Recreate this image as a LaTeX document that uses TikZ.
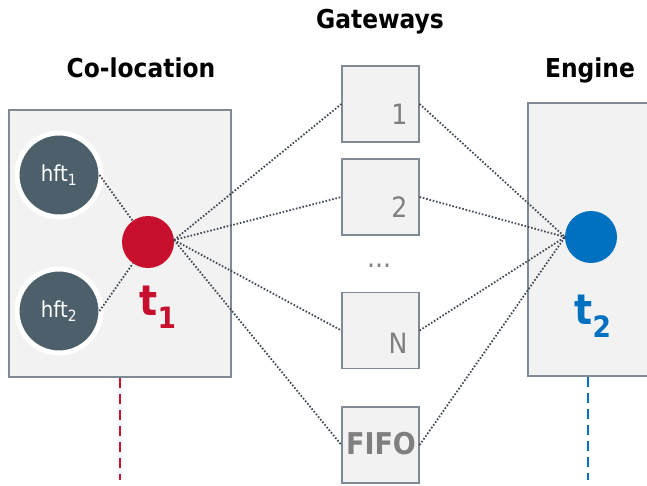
\documentclass[tikz,border=0pt]{standalone}
\usepackage{fontspec}
\setmainfont{DejaVu Sans Condensed}
\definecolor{boxfill}{HTML}{F2F2F2}
\definecolor{boxline}{HTML}{7F8A94}
\definecolor{darkc}{HTML}{4E5F6C}
\definecolor{redc}{HTML}{C8102E}
\definecolor{bluec}{HTML}{0070C0}
\definecolor{linec}{HTML}{3F4A55}
\definecolor{numc}{HTML}{7F7F7F}
\tikzset{
  panel/.style={draw=boxline, fill=boxfill, line width=1.2pt},
  gw/.style={draw=boxline, fill=boxfill, line width=1.2pt, minimum width=77pt, minimum height=76pt, inner sep=0pt},
  hft/.style={circle, fill=darkc, draw=white, line width=5pt, minimum size=84pt, text=white, font=\fontsize{22}{22}\selectfont, inner sep=0pt},
  tnode/.style={circle, minimum size=52pt, inner sep=0pt},
  conn/.style={draw=linec, line width=1.8pt, dash pattern=on 1.6pt off 1.8pt},
  title/.style={font=\bfseries\fontsize{26}{26}\selectfont},
  num/.style={text=numc, font=\fontsize{28}{28}\selectfont},
}
\begin{document}
\begin{tikzpicture}[x=1pt,y=-1pt]
\useasboundingbox (0,0) rectangle (647,485);
% panels
\path[panel] (9,110) rectangle (231,377);
\path[panel] (528,103) rectangle (660,376);
% gateways
\node[gw] (g1) at (380.5,104) {};
\node[gw] (g2) at (380.5,197) {};
\node[gw] (gN) at (380.5,330.5) {};
\node[gw] (gF) at (380.5,445) {};
\node[num, anchor=east] at (411,114) {1};
\node[num, anchor=east] at (411,207) {2};
\node[num, anchor=east] at (411,343) {N};
\node[text=numc, font=\bfseries\fontsize{30}{30}\selectfont] at (381,444) {FIFO};
\node[text=numc, font=\fontsize{28}{28}\selectfont] at (379,266) {...};
% titles
\node[title] (tg) at (380,22) {Gateways};
\node[title] (tc) at (141,68) {Co-location};
\node[title] (te) at (590,70) {Engine};
% nodes
\node[hft] (h1) at (59,175) {hft\textsubscript{1}};
\node[hft] (h2) at (59,311) {hft\textsubscript{2}};
\node[tnode, fill=redc] (t1) at (148,242) {};
\node[tnode, fill=bluec] (t2) at (591,237) {};
\node[text=redc, font=\bfseries\fontsize{42}{42}\selectfont] (l1) at (158,307) {t\textsubscript{1}};
\node[text=bluec, font=\bfseries\fontsize{42}{42}\selectfont] (l2) at (593,316) {t\textsubscript{2}};
% connectors
\coordinate (t1e) at (174,240);
\coordinate (t2w) at (565,237);
\draw[conn] (h1.east) ++(-4,0) coordinate (h1e) -- (t1);
\draw[conn] (h2.east) ++(-4,0) coordinate (h2e) -- (t1);
\foreach \g in {g1,g2,gN,gF}{
  \draw[conn] (t1e) -- (\g.west);
  \draw[conn] (\g.east) -- (t2w);
}
% dashed timelines
\coordinate (r1) at (120,480);
\coordinate (r2) at (588,480);
\draw[redc, line width=2pt, dash pattern=on 10pt off 6pt] (120,378) -- (r1);
\draw[bluec, line width=2pt, dash pattern=on 10pt off 6pt] (588,377) -- (r2);
\end{tikzpicture}
\end{document}
